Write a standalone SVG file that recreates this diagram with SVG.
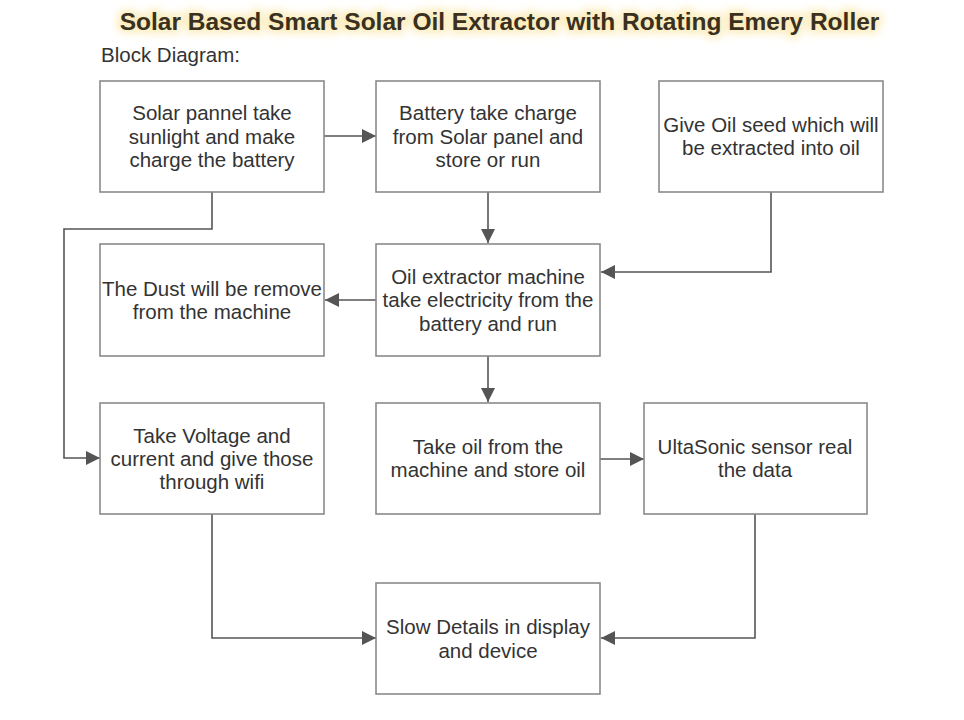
<svg xmlns="http://www.w3.org/2000/svg" width="964" height="720" viewBox="0 0 964 720">
<defs>
<style>
.box{fill:#fff;stroke:#8a8a8a;stroke-width:1.6}
.t{font-family:"Liberation Sans",Arial,sans-serif;font-size:20.5px;fill:#333;text-anchor:middle}
.c{fill:none;stroke:#555;stroke-width:1.6}
.title{font-family:"Liberation Sans",Arial,sans-serif;font-size:24.5px;font-weight:bold;text-anchor:middle}
</style>
<marker id="arr" markerUnits="userSpaceOnUse" markerWidth="14" markerHeight="14" viewBox="0 0 12 12" refX="12" refY="6" orient="auto">
<path d="M0,0 L12,6 L0,12 Z" fill="#555"/>
</marker>
<filter id="glow" x="-10%" y="-60%" width="120%" height="220%">
<feGaussianBlur stdDeviation="4.5"/>
</filter>
</defs>
<rect width="964" height="720" fill="#fff"/>
<g id="title">
<text class="title" x="499.5" y="30" fill="#fbe7a6" stroke="#fcedbd" stroke-width="7" filter="url(#glow)">Solar Based Smart Solar Oil Extractor with Rotating Emery Roller</text>
<text class="title" x="499.5" y="30" fill="#3a3020">Solar Based Smart Solar Oil Extractor with Rotating Emery Roller</text>
</g>
<text x="101" y="62" font-family="Liberation Sans, Arial, sans-serif" font-size="20.5" fill="#333">Block Diagram:</text>
<g id="connectors">
<path class="c" d="M324,136 H376" marker-end="url(#arr)"/>
<path class="c" d="M488,192 V243" marker-end="url(#arr)"/>
<path class="c" d="M771,192 V272 H601" marker-end="url(#arr)"/>
<path class="c" d="M376,300 H325" marker-end="url(#arr)"/>
<path class="c" d="M212,192 V229 H64 V458 H100" marker-end="url(#arr)"/>
<path class="c" d="M488,356 V402" marker-end="url(#arr)"/>
<path class="c" d="M600,459 H644" marker-end="url(#arr)"/>
<path class="c" d="M212,514 V638 H376" marker-end="url(#arr)"/>
<path class="c" d="M755,514 V638 H601" marker-end="url(#arr)"/>
</g>
<g id="solar">
<rect class="box" x="100" y="81" width="224" height="111"/>
<text class="t" x="212" y="120">Solar pannel take</text>
<text class="t" x="212" y="144">sunlight and make</text>
<text class="t" x="212" y="167">charge the battery</text>
</g>
<g id="battery">
<rect class="box" x="376" y="81" width="224" height="111"/>
<text class="t" x="488" y="120">Battery take charge</text>
<text class="t" x="488" y="144">from Solar panel and</text>
<text class="t" x="488" y="167">store or run</text>
</g>
<g id="seed">
<rect class="box" x="659" y="81" width="224" height="111"/>
<text class="t" x="771" y="132">Give Oil seed which will</text>
<text class="t" x="771" y="155">be extracted into oil</text>
</g>
<g id="dust">
<rect class="box" x="100" y="244" width="224" height="112"/>
<text class="t" x="212" y="296">The Dust will be remove</text>
<text class="t" x="212" y="319">from the machine</text>
</g>
<g id="extractor">
<rect class="box" x="376" y="244" width="224" height="112"/>
<text class="t" x="488" y="284">Oil extractor machine</text>
<text class="t" x="488" y="307">take electricity from the</text>
<text class="t" x="488" y="331">battery and run</text>
</g>
<g id="voltage">
<rect class="box" x="100" y="403" width="224" height="111"/>
<text class="t" x="212" y="443">Take Voltage and</text>
<text class="t" x="212" y="466">current and give those</text>
<text class="t" x="212" y="489">through wifi</text>
</g>
<g id="oil">
<rect class="box" x="376" y="403" width="224" height="111"/>
<text class="t" x="488" y="454">Take oil from the</text>
<text class="t" x="488" y="477">machine and store oil</text>
</g>
<g id="sensor">
<rect class="box" x="644" y="403" width="223" height="111"/>
<text class="t" x="755" y="454">UltaSonic sensor real</text>
<text class="t" x="755" y="477">the data</text>
</g>
<g id="display">
<rect class="box" x="376" y="583" width="224" height="111"/>
<text class="t" x="488" y="634">Slow Details in display</text>
<text class="t" x="488" y="658">and device</text>
</g>
</svg>
